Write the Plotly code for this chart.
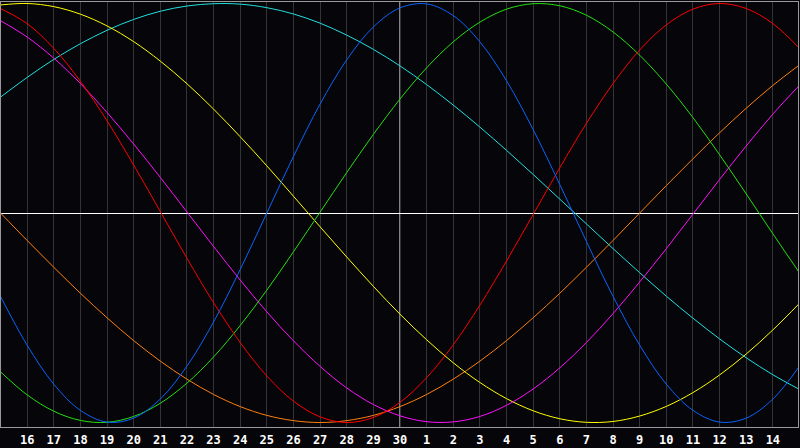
import plotly.graph_objects as go

# Day positions (15th of previous month .. 15th of the month), one value per day
days = list(range(15, 46))
tick_days = list(range(16, 45))
tick_labels = [str(v) for v in range(16, 31)] + [str(v) for v in range(1, 15)]
today = 30

# Series values (percent, -100..100), one per day
blue = [-39.8, -63.1, -81.7, -94.2, -99.8, -97.9, -88.8, -73.1, -52.0, -27.0, 0.0,
        27.0, 52.0, 73.1, 88.8, 97.9, 99.8, 94.2, 81.7, 63.1, 39.8, 13.6, -13.6,
        -39.8, -63.1, -81.7, -94.2, -99.8, -97.9, -88.8, -73.1]
red = [97.6, 90.4, 78.6, 62.9, 44.0, 22.9, 0.7, -21.6, -42.8, -61.8, -77.8,
       -89.8, -97.3, -100.0, -97.6, -90.4, -78.6, -62.9, -44.0, -22.9, -0.7, 21.6,
       42.8, 61.8, 77.8, 89.8, 97.3, 100.0, 97.6, 90.4, 78.6]
green = [-75.8, -86.8, -94.6, -99.0, -99.9, -97.1, -90.8, -81.2, -68.7, -53.7, -36.8,
         -18.5, 0.4, 19.3, 37.5, 54.4, 69.3, 81.7, 91.1, 97.3, 99.9, 98.9, 94.4,
         86.4, 75.3, 61.5, 45.5, 27.8, 9.1, -9.9, -28.6]
magenta = [91.8, 84.0, 73.9, 61.8, 48.0, 32.9, 17.0, 0.5, -16.0, -32.0, -47.2,
           -61.0, -73.2, -83.5, -91.4, -96.8, -99.6, -99.7, -97.1, -91.8, -84.0, -73.9,
           -61.8, -48.0, -32.9, -17.0, -0.5, 16.0, 32.0, 47.2, 61.0]
yellow = [99.3, 100.0, 98.5, 94.9, 89.3, 81.8, 72.5, 61.7, 49.6, 36.4, 22.5,
          8.0, -6.6, -21.0, -35.0, -48.3, -60.5, -71.5, -80.9, -88.6, -94.4, -98.2,
          -99.9, -99.5, -96.9, -92.3, -85.7, -77.3, -67.3, -55.8, -43.1]
orange = [0.0, -13.1, -25.9, -38.3, -50.0, -60.9, -70.7, -79.3, -86.6, -92.4, -96.6,
          -99.1, -100.0, -99.1, -96.6, -92.4, -86.6, -79.3, -70.7, -60.9, -50.0, -38.3,
          -25.9, -13.1, 0.0, 13.1, 25.9, 38.3, 50.0, 60.9, 70.7]
cyan = [55.3, 64.7, 73.3, 80.8, 87.2, 92.4, 96.3, 98.8, 99.9, 99.7, 98.0,
        95.0, 90.6, 84.9, 78.1, 70.2, 61.3, 51.5, 41.0, 29.9, 18.4, 6.6,
        -5.2, -17.0, -28.5, -39.7, -50.2, -60.1, -69.1, -77.2, -84.2]

series = [
    ("orange", orange, "#ff8010"),
    ("cyan", cyan, "#20e0e0"),
    ("yellow", yellow, "#ffff00"),
    ("magenta", magenta, "#ff10ff"),
    ("green", green, "#22e010"),
    ("red", red, "#ff0000"),
    ("blue", blue, "#0a64ff"),
]

bg = "#060509"

fig = go.Figure()
for name, vals, col in series:
    fig.add_trace(go.Scatter(
        x=days, y=vals, mode="lines", name=name,
        line=dict(color=col, width=1, shape="spline", smoothing=1),
        hoverinfo="skip", showlegend=False,
    ))

fig.add_shape(type="line", xref="x", yref="paper", x0=today, x1=today, y0=0, y1=1,
              line=dict(color="#ffffff", width=1), layer="between")

fig.update_layout(
    width=800, height=448,
    margin=dict(l=1, r=1, t=1, b=20, pad=0),
    paper_bgcolor=bg, plot_bgcolor=bg,
    showlegend=False,
    xaxis=dict(
        range=[15.01875, 44.94375],
        tickmode="array", tickvals=tick_days, ticktext=tick_labels,
        showgrid=True, gridcolor="#343438", gridwidth=1,
        zeroline=False, ticks="", ticklabelstandoff=2,
        showline=True, mirror=True, linecolor="#9a9a9a", linewidth=1,
        tickfont=dict(family="DejaVu Sans Mono", size=12, color="#ffffff", weight="bold"),
        fixedrange=True,
    ),
    yaxis=dict(
        range=[-102.14, 100.71],
        showgrid=False, showticklabels=False, ticks="",
        zeroline=True, zerolinecolor="#ffffff", zerolinewidth=1,
        showline=True, mirror=True, linecolor="#9a9a9a", linewidth=1,
        fixedrange=True,
    ),
)

fig.write_html(
    "out.html",
    config={"displayModeBar": False, "staticPlot": True},
    post_script="document.body.style.margin='0';document.body.style.overflow='hidden';"
                "document.body.style.background='%s';" % bg,
)
